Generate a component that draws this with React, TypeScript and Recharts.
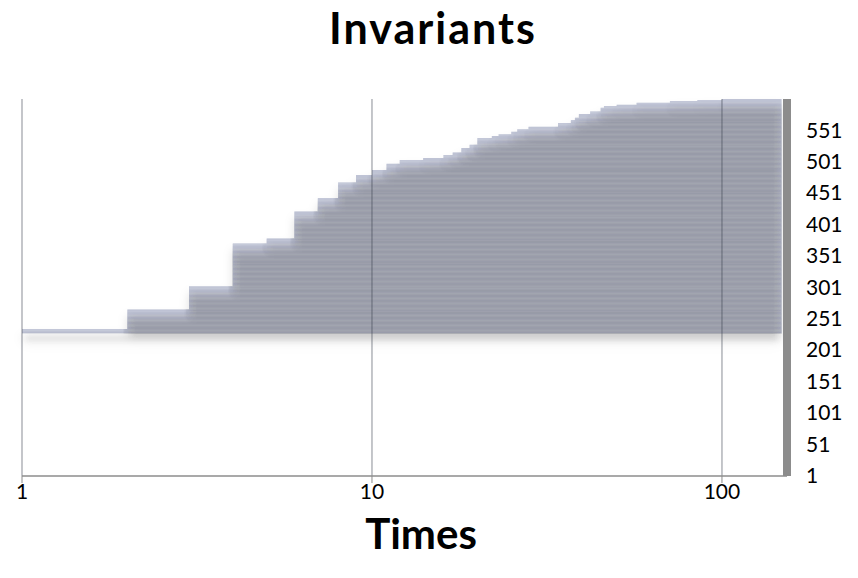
import React from 'react';
import { BarChart, Bar, XAxis, YAxis, ReferenceLine } from 'recharts';

// Invariant index (categories 1..categoryCount); invariants below firstBarCategory were never found.
const categoryCount = 600;
const firstBarCategory = 228;
// Times at which each group of invariants was found, and how many invariants share that time.
const stepTimes = [1, 2, 3, 4, 5, 6, 7, 8, 9, 10, 11, 12, 14, 16, 17, 18, 19, 20, 22, 23, 25, 26, 28, 34, 37, 38, 39, 42, 45, 46, 50, 57, 71, 85, 100];
const stepCounts = [7, 31, 37, 68, 8, 43, 21, 25, 12, 8, 10, 6, 3, 5, 4, 7, 5, 11, 3, 3, 4, 4, 4, 6, 4, 4, 6, 4, 6, 3, 2, 3, 3, 1, 2];
const timeAxisMax = 148;
const timeDomainMax = 153.4;
const timeTicks = [1, 10, 100];
const categoryLabelStep = 50;

const times: (number | null)[] = [];
for (let i = 1; i < firstBarCategory; i++) times.push(null);
stepTimes.forEach((t, k) => {
  for (let j = 0; j < stepCounts[k]; j++) times.push(t);
});
while (times.length < categoryCount) times.push(null);

const data = times.map((t, i) => ({
  idx: String(i + 1),
  range: t == null ? null : [t, timeAxisMax],
}));

const tickFont = { fontSize: 21, fill: '#000', fontFamily: 'Lato' };

export default function App() {
  return (
    <div style={{ position: 'absolute', left: 0, top: 0, width: 858, height: 578, background: '#fff' }}>
      <style>{'.inv-bars{filter:drop-shadow(0px 7px 5px rgba(0,0,0,0.17));}'}</style>
      <BarChart
        width={858}
        height={578}
        data={data}
        layout="vertical"
        barCategoryGap={0}
        barGap={0}
        margin={{ top: 99, right: 11, bottom: 72, left: 22 }}
      >
        <XAxis
          type="number"
          scale="log"
          domain={[1, timeDomainMax]}
          allowDataOverflow
          ticks={timeTicks}
          height={30}
          axisLine={{ stroke: '#8c8c8c', strokeWidth: 1.5 }}
          tickLine={{ stroke: '#8c8c8c', strokeWidth: 1 }}
          tickSize={7}
          tickMargin={1}
          tick={tickFont}
        />
        <YAxis
          type="category"
          dataKey="idx"
          orientation="right"
          reversed
          width={60}
          interval={categoryLabelStep - 1}
          axisLine={{ stroke: '#8c8c8c', strokeWidth: 8 }}
          tickLine={false}
          tickSize={8}
          tickMargin={11}
          tick={{ ...tickFont, textAnchor: 'start' }}
        />
        <Bar
          dataKey="range"
          fill="#b0b6cc"
          className="inv-bars"
          isAnimationActive={false}
        />
        {timeTicks.map((t) => (
          <ReferenceLine key={t} x={t} stroke="#3c4150" strokeOpacity={0.5} strokeWidth={1.2} />
        ))}
      </BarChart>
      <svg width={858} height={578} style={{ position: 'absolute', left: 0, top: 0, pointerEvents: 'none' }}>
        <text x={433} y={44} textAnchor="middle" fontFamily="Lato" fontWeight={700} fontSize={43} letterSpacing={2} fill="#000">
          Invariants
        </text>
        <text x={421} y={549} textAnchor="middle" fontFamily="Lato" fontWeight={700} fontSize={42} fill="#000">
          Times
        </text>
      </svg>
    </div>
  );
}
